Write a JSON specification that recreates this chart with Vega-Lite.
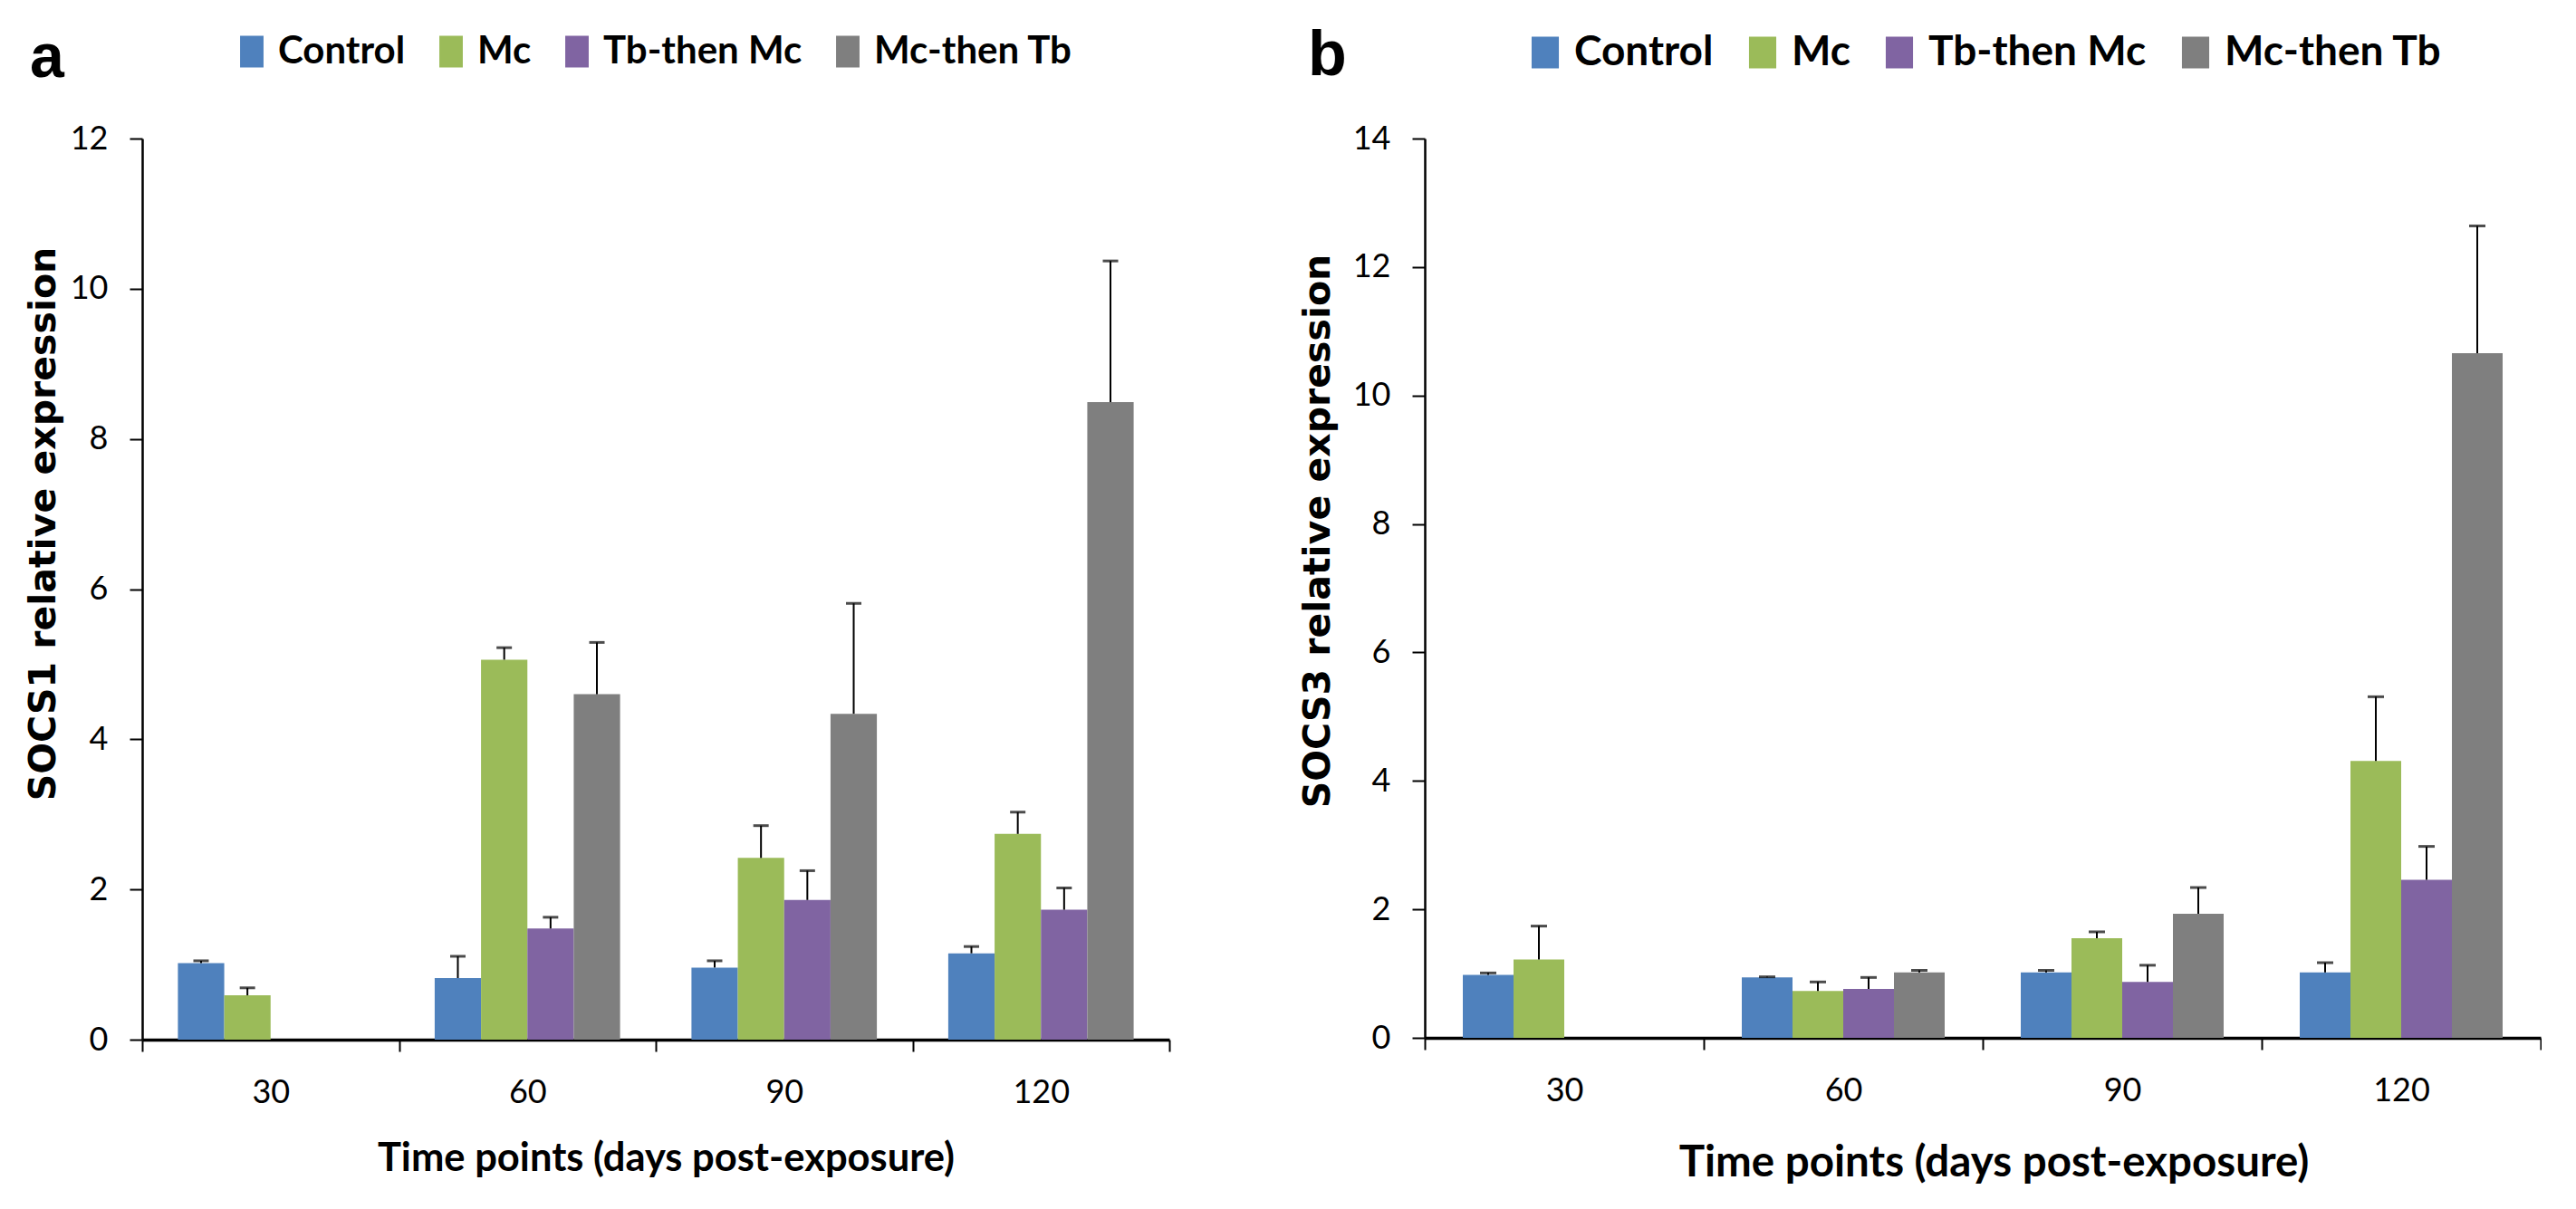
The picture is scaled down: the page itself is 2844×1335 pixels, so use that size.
{
  "$schema": "https://vega.github.io/schema/vega-lite/v6.json",
  "background": "white",
  "padding": {"left": 27, "top": 35, "right": 0, "bottom": 0},
  "datasets": {
    "socs1": [
      {"day": "30", "group": "Control", "mean": 1.02, "upper": 1.05},
      {"day": "30", "group": "Mc", "mean": 0.59, "upper": 0.69},
      {"day": "60", "group": "Control", "mean": 0.82, "upper": 1.11},
      {"day": "60", "group": "Mc", "mean": 5.06, "upper": 5.22},
      {"day": "60", "group": "Tb-then Mc", "mean": 1.48, "upper": 1.63},
      {"day": "60", "group": "Mc-then Tb", "mean": 4.6, "upper": 5.29},
      {"day": "90", "group": "Control", "mean": 0.96, "upper": 1.05},
      {"day": "90", "group": "Mc", "mean": 2.42, "upper": 2.85},
      {"day": "90", "group": "Tb-then Mc", "mean": 1.86, "upper": 2.25},
      {"day": "90", "group": "Mc-then Tb", "mean": 4.34, "upper": 5.81},
      {"day": "120", "group": "Control", "mean": 1.15, "upper": 1.24},
      {"day": "120", "group": "Mc", "mean": 2.74, "upper": 3.03},
      {"day": "120", "group": "Tb-then Mc", "mean": 1.73, "upper": 2.02},
      {"day": "120", "group": "Mc-then Tb", "mean": 8.49, "upper": 10.37}
    ],
    "socs3": [
      {"day": "30", "group": "Control", "mean": 0.98, "upper": 1.01},
      {"day": "30", "group": "Mc", "mean": 1.22, "upper": 1.74},
      {"day": "60", "group": "Control", "mean": 0.94, "upper": 0.95},
      {"day": "60", "group": "Mc", "mean": 0.73, "upper": 0.87},
      {"day": "60", "group": "Tb-then Mc", "mean": 0.76, "upper": 0.94},
      {"day": "60", "group": "Mc-then Tb", "mean": 1.02, "upper": 1.05},
      {"day": "90", "group": "Control", "mean": 1.02, "upper": 1.05},
      {"day": "90", "group": "Mc", "mean": 1.55, "upper": 1.65},
      {"day": "90", "group": "Tb-then Mc", "mean": 0.87, "upper": 1.13},
      {"day": "90", "group": "Mc-then Tb", "mean": 1.93, "upper": 2.34},
      {"day": "120", "group": "Control", "mean": 1.02, "upper": 1.17},
      {"day": "120", "group": "Mc", "mean": 4.31, "upper": 5.31},
      {"day": "120", "group": "Tb-then Mc", "mean": 2.46, "upper": 2.98},
      {"day": "120", "group": "Mc-then Tb", "mean": 10.66, "upper": 12.64}
    ]
  },
  "bounds": "flush",
  "spacing": 282,
  "hconcat": [
    {
      "width": 1134,
      "height": 995,
      "data": {"name": "socs1"},
      "encoding": {
        "x": {
          "field": "day",
          "type": "nominal",
          "scale": {"domain": ["30", "60", "90", "120"], "paddingInner": 0, "paddingOuter": 0},
          "axis": {
            "title": "Time points (days post-exposure)",
            "titleFontSize": 43.5,
            "titlePadding": 34,
            "titleX": 578
          }
        },
        "xOffset": {
          "field": "group",
          "type": "nominal",
          "scale": {"domain": ["Control", "Mc", "Tb-then Mc", "Mc-then Tb"], "paddingInner": 0, "paddingOuter": 0.77}
        }
      },
      "layer": [
        {
          "mark": {"type": "bar"},
          "encoding": {
            "y": {
              "field": "mean",
              "type": "quantitative",
              "scale": {"domain": [0, 12], "nice": false},
              "axis": {
                "values": [0, 2, 4, 6, 8, 10, 12],
                "format": "d",
                "title": "SOCS1 relative expression",
                "titleX": -97,
                "titleY": 425
              }
            },
            "color": {
              "field": "group",
              "type": "nominal",
              "scale": {
                "domain": ["Control", "Mc", "Tb-then Mc", "Mc-then Tb"],
                "range": ["#4F81BD", "#9BBB59", "#8064A2", "#7F7F7F"]
              },
              "legend": {
                "orient": "none",
                "legendX": -124,
                "legendY": -117,
                "direction": "horizontal",
                "title": "a",
                "titlePadding": 186,
                "titleLineHeight": 16,
                "labelFontSize": 42,
                "labelOffset": 8,
                "columnPadding": 29,
                "symbolType": "M-0.74,-1H0.74V1H-0.74Z",
                "symbolSize": 1225
              }
            }
          }
        },
        {
          "mark": {"type": "rule", "color": "black", "strokeWidth": 2},
          "encoding": {
            "y": {"field": "mean", "type": "quantitative"},
            "y2": {"field": "upper"}
          }
        },
        {
          "mark": {"type": "tick", "orient": "horizontal", "size": 17, "thickness": 3, "color": "black"},
          "encoding": {
            "y": {"field": "upper", "type": "quantitative"}
          }
        }
      ]
    },
    {
      "width": 1232,
      "height": 993,
      "data": {"name": "socs3"},
      "encoding": {
        "x": {
          "field": "day",
          "type": "nominal",
          "scale": {"domain": ["30", "60", "90", "120"], "paddingInner": 0, "paddingOuter": 0},
          "axis": {
            "title": "Time points (days post-exposure)",
            "titleFontSize": 47.5,
            "titlePadding": 38,
            "titleX": 628
          }
        },
        "xOffset": {
          "field": "group",
          "type": "nominal",
          "scale": {"domain": ["Control", "Mc", "Tb-then Mc", "Mc-then Tb"], "paddingInner": 0, "paddingOuter": 0.75}
        }
      },
      "layer": [
        {
          "mark": {"type": "bar"},
          "encoding": {
            "y": {
              "field": "mean",
              "type": "quantitative",
              "scale": {"domain": [0, 14], "nice": false},
              "axis": {
                "values": [0, 2, 4, 6, 8, 10, 12, 14],
                "format": "d",
                "title": "SOCS3 relative expression",
                "titleX": -106,
                "titleY": 433
              }
            },
            "color": {
              "field": "group",
              "type": "nominal",
              "scale": {
                "domain": ["Control", "Mc", "Tb-then Mc", "Mc-then Tb"],
                "range": ["#4F81BD", "#9BBB59", "#8064A2", "#7F7F7F"]
              },
              "legend": {
                "orient": "none",
                "legendX": -129,
                "legendY": -118,
                "direction": "horizontal",
                "title": "b",
                "titleFontSize": 70,
                "titlePadding": 196,
                "titleLineHeight": 10,
                "labelFontSize": 46,
                "labelOffset": 9,
                "columnPadding": 31,
                "symbolType": "M-0.86,-1H0.86V1H-0.86Z",
                "symbolSize": 1225
              }
            }
          }
        },
        {
          "mark": {"type": "rule", "color": "black", "strokeWidth": 2},
          "encoding": {
            "y": {"field": "mean", "type": "quantitative"},
            "y2": {"field": "upper"}
          }
        },
        {
          "mark": {"type": "tick", "orient": "horizontal", "size": 18, "thickness": 3, "color": "black"},
          "encoding": {
            "y": {"field": "upper", "type": "quantitative"}
          }
        }
      ]
    }
  ],
  "resolve": {
    "scale": {"x": "independent", "y": "independent", "xOffset": "independent", "color": "independent"},
    "legend": {"color": "independent"}
  },
  "config": {
    "view": {"stroke": null},
    "axis": {
      "grid": false,
      "domainColor": "black",
      "tickColor": "black",
      "tickWidth": 2,
      "labelFont": "Lato",
      "labelFontSize": 36,
      "labelColor": "black",
      "titleColor": "black"
    },
    "axisX": {
      "tickBand": "extent",
      "domainWidth": 3.5,
      "tickSize": 13,
      "labelAngle": 0,
      "labelPadding": 28,
      "titleFont": "Lato",
      "titleFontWeight": "bold"
    },
    "axisY": {
      "domainWidth": 2.5,
      "tickSize": 14,
      "labelPadding": 24,
      "titleFont": "DejaVu Sans",
      "titleFontWeight": "bold",
      "titleFontSize": 41,
      "titleBaseline": "alphabetic"
    },
    "legend": {
      "titleOrient": "left",
      "titleFont": "Liberation Sans",
      "titleFontSize": 68,
      "titleFontWeight": "bold",
      "titleColor": "black",
      "titleBaseline": "line-top",
      "labelFont": "Lato",
      "labelFontWeight": "bold",
      "labelColor": "black",
      "labelLimit": 0,
      "symbolStrokeWidth": 0,
      "symbolOpacity": 1
    }
  }
}
